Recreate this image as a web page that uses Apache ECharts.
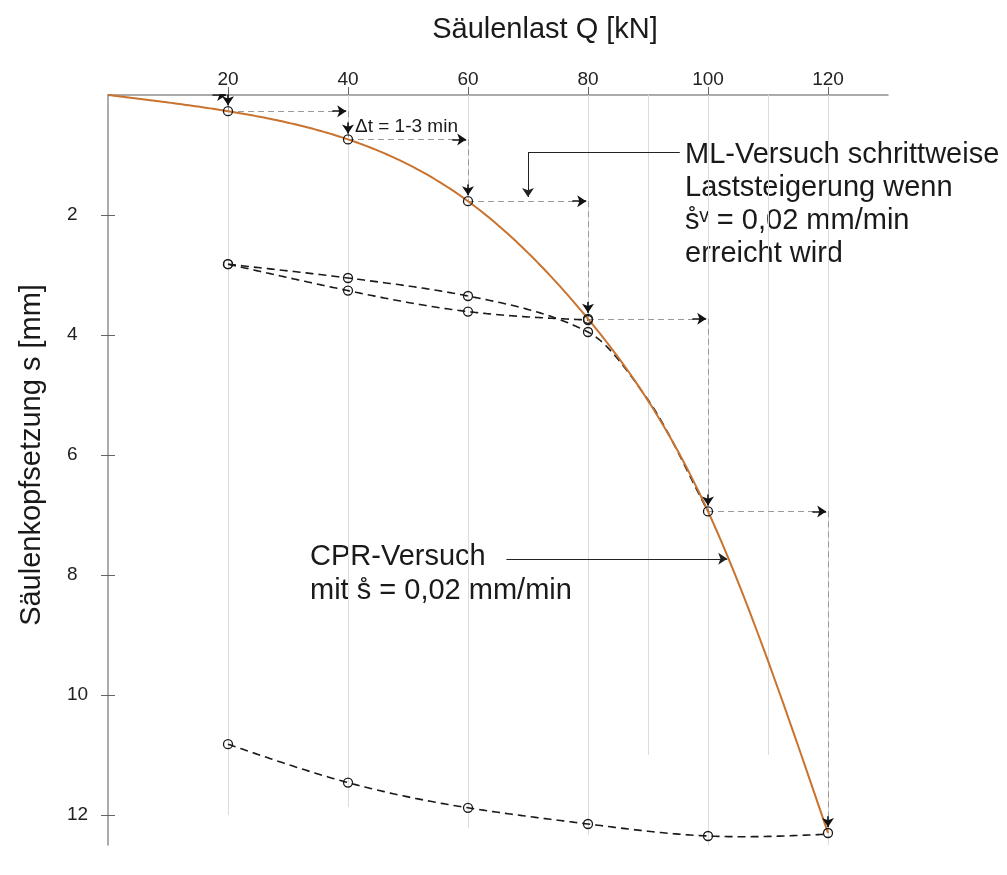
<!DOCTYPE html>
<html>
<head>
<meta charset="utf-8">
<script src="https://cdn.jsdelivr.net/npm/echarts@6/dist/echarts.min.js"></script>
<style>
  html, body { margin: 0; padding: 0; background: #fff; }
  #c { width: 1007px; height: 875px; }
</style>
</head>
<body>
<div id="c"></div>
<script>
// Load steps Q [kN] and head settlement s [mm]
const loadQ      = [0, 20, 40, 60, 80, 100, 120];
const cprS       = [0, 0.27, 0.74, 1.77, 3.73, 6.94, 12.3];

// Unload / reload cycles (dashed); cycle B has an unmarked point at 90 kN
const cycleAQ    = [20, 40, 60, 80];
const cycleAS    = [2.82, 3.26, 3.61, 3.75];
const cycleBQ    = [20, 40, 60, 80, 90, 100];
const cycleBS    = [2.82, 3.05, 3.35, 3.95, 5.08, 6.94];
const cycleCQ    = [20, 40, 60, 80, 100, 120];
const cycleCS    = [10.82, 11.46, 11.88, 12.15, 12.35, 12.32];

// Axis ticks
const qTicks     = [20, 40, 60, 80, 100, 120];
const sTicks     = [2, 4, 6, 8, 10, 12];

// Light vertical guide lines: position and depth
const guideQ     = [20, 40, 60, 80, 90, 100, 110, 120];
const guideEnd   = [12.0, 11.87, 12.22, 12.33, 11.0, 12.53, 11.0, 12.5];

// Leader lines of the two notes
const mlLeader   = [[95.3, 0.95], [70, 0.95], [70, 1.7]];
const cprLeader  = [[66.4, 7.73], [103.2, 7.73]];

const FONT = '"Liberation Sans", Arial, sans-serif';
const ORANGE = '#c8732f';
const BLACK = '#1a1a1a';

const zip = (a, b) => a.map((v, i) => [v, b[i]]);

// Hermite evaluation
function hermite(xs, ys, m) {
  const n = xs.length;
  return x => {
    let j = n - 2;
    for (let k = 0; k < n - 1; k++) { if (x <= xs[k + 1]) { j = k; break; } }
    const h = xs[j + 1] - xs[j];
    const t = (x - xs[j]) / h;
    const t2 = t * t, t3 = t2 * t;
    return (2 * t3 - 3 * t2 + 1) * ys[j] + (t3 - 2 * t2 + t) * h * m[j] +
           (-2 * t3 + 3 * t2) * ys[j + 1] + (t3 - t2) * h * m[j + 1];
  };
}

// Natural cubic spline s(Q)
function naturalSpline(xs, ys) {
  const n = xs.length;
  const h = [], alpha = [0];
  for (let i = 0; i < n - 1; i++) h.push(xs[i + 1] - xs[i]);
  for (let i = 1; i < n - 1; i++) {
    alpha.push(3 / h[i] * (ys[i + 1] - ys[i]) - 3 / h[i - 1] * (ys[i] - ys[i - 1]));
  }
  const l = [1], mu = [0], z = [0];
  for (let i = 1; i < n - 1; i++) {
    l[i] = 2 * (xs[i + 1] - xs[i - 1]) - h[i - 1] * mu[i - 1];
    mu[i] = h[i] / l[i];
    z[i] = (alpha[i] - h[i - 1] * z[i - 1]) / l[i];
  }
  const c = new Array(n).fill(0), b = [], d = [];
  for (let j = n - 2; j >= 0; j--) {
    c[j] = z[j] - mu[j] * c[j + 1];
    b[j] = (ys[j + 1] - ys[j]) / h[j] - h[j] * (c[j + 1] + 2 * c[j]) / 3;
    d[j] = (c[j + 1] - c[j]) / (3 * h[j]);
  }
  return x => {
    let j = n - 2;
    for (let k = 0; k < n - 1; k++) { if (x <= xs[k + 1]) { j = k; break; } }
    const t = x - xs[j];
    return ys[j] + b[j] * t + c[j] * t * t + d[j] * t * t * t;
  };
}

// Monotone cubic (Fritsch-Carlson)
function monotoneSpline(xs, ys) {
  const n = xs.length;
  const dk = [];
  for (let i = 0; i < n - 1; i++) dk.push((ys[i + 1] - ys[i]) / (xs[i + 1] - xs[i]));
  const m = [dk[0]];
  for (let i = 1; i < n - 1; i++) {
    if (dk[i - 1] * dk[i] <= 0) m.push(0);
    else {
      const w1 = 2 * (xs[i + 1] - xs[i]) + (xs[i] - xs[i - 1]);
      const w2 = (xs[i + 1] - xs[i]) + 2 * (xs[i] - xs[i - 1]);
      m.push((w1 + w2) / (w1 / dk[i - 1] + w2 / dk[i]));
    }
  }
  m.push(dk[n - 2]);
  return hermite(xs, ys, m);
}

function sampleCurve(f, x0, x1, steps) {
  const out = [];
  for (let i = 0; i <= steps; i++) {
    const x = x0 + (x1 - x0) * i / steps;
    out.push([x, f(x)]);
  }
  return out;
}

// A smooth curve drawn through the cartesian scales
function curveSeries(xs, ys, kind, style, z) {
  const f = kind === 'monotone' ? monotoneSpline(xs, ys) : naturalSpline(xs, ys);
  const pts = sampleCurve(f, xs[0], xs[xs.length - 1], 240);
  return {
    type: 'custom', coordinateSystem: 'cartesian2d', silent: true, z: z,
    data: [[xs[0], ys[0]]],
    renderItem: (params, api) => ({
      type: 'polyline',
      shape: { points: pts.map(p => api.coord(p)), smooth: 0 },
      style: Object.assign({ fill: null }, style)
    })
  };
}

// Staircase of the ML test: horizontal hold, then vertical settlement
const stairSegs = [];
const arrowSegs = [];
for (let i = 1; i < loadQ.length; i++) {
  const q0 = loadQ[i - 1], q1 = loadQ[i];
  const s0 = cprS[i - 1], s1 = cprS[i];
  if (i > 1) stairSegs.push({ coords: [[q0, s0], [q1, s0]] });
  stairSegs.push({ coords: [[q1, s0], [q1, s1]] });
  // arrow heads at the end of each leg
  arrowSegs.push({ coords: [[q1 - 2.6, s0], [q1 - 0.3, s0]] });
  arrowSegs.push({ coords: [[q1, s1 - 0.28], [q1, s1 - 0.1]] });
}

const guideSegs = guideQ.map((q, i) => ({ coords: [[q, 0], [q, guideEnd[i]]] }));

const markerPts = [].concat(
  zip(loadQ, cprS).slice(1),
  zip(cycleAQ, cycleAS),
  zip(cycleBQ, cycleBS).slice(0, 4),
  zip(cycleCQ, cycleCS).slice(0, 5)
);

const dashBlack = { stroke: BLACK, lineWidth: 1.6, lineDash: [8, 5] };

const chart = echarts.init(document.getElementById('c'), null, { renderer: 'canvas' });

chart.setOption({
  animation: false,
  backgroundColor: '#fff',
  grid: { left: 108, right: 119, top: 95, bottom: 30 },
  xAxis: {
    type: 'value', position: 'top', min: 0, max: 130, interval: 20,
    axisLine: { lineStyle: { color: '#8f8f8f', width: 1.5 } },
    axisTick: { customValues: qTicks, length: 8, lineStyle: { color: '#666', width: 1 } },
    axisLabel: { customValues: qTicks, fontSize: 19, color: '#222', margin: 6, fontFamily: FONT },
    splitLine: { show: false }
  },
  yAxis: [{
    type: 'value', inverse: true, min: 0, max: 12.5, interval: 2,
    axisLine: { onZero: false, lineStyle: { color: '#8f8f8f', width: 1.5 } },
    axisTick: { customValues: sTicks, length: 7, lineStyle: { color: '#666', width: 1 } },
    axisLabel: { customValues: sTicks, fontSize: 19, color: '#222', margin: 41, align: 'left', fontFamily: FONT },
    splitLine: { show: false }
  }, {
    type: 'value', inverse: true, min: 0, max: 12.5, interval: 2, position: 'left',
    axisLine: { show: false },
    axisTick: { inside: true, customValues: sTicks, length: 7, lineStyle: { color: '#666', width: 1 } },
    axisLabel: { show: false },
    splitLine: { show: false }
  }],
  series: [
    {
      type: 'lines', coordinateSystem: 'cartesian2d', silent: true, z: 1,
      lineStyle: { color: '#dcdcdc', width: 1, opacity: 1 },
      data: guideSegs
    },
    {
      type: 'lines', coordinateSystem: 'cartesian2d', silent: true, z: 2,
      lineStyle: { color: '#9a9a9a', width: 1, type: [6, 4], opacity: 1 },
      data: stairSegs
    },
    curveSeries(cycleAQ, cycleAS, 'natural', dashBlack, 3),
    curveSeries(cycleBQ, cycleBS, 'monotone', dashBlack, 3),
    curveSeries(cycleCQ, cycleCS, 'natural', dashBlack, 3),
    curveSeries(loadQ, cprS, 'natural', { stroke: ORANGE, lineWidth: 2 }, 4),
    {
      type: 'scatter', z: 6, silent: true, data: markerPts,
      symbol: 'circle', symbolSize: 9,
      itemStyle: { color: 'rgba(0,0,0,0)', borderColor: BLACK, borderWidth: 1.3, opacity: 1 }
    },
    {
      type: 'lines', coordinateSystem: 'cartesian2d', silent: true, z: 5,
      symbol: ['none', 'arrow'], symbolSize: 9,
      lineStyle: { color: '#111', width: 1.6, opacity: 1 },
      data: arrowSegs
    },
    {
      type: 'lines', coordinateSystem: 'cartesian2d', silent: true, z: 5,
      symbol: ['none', 'none'],
      lineStyle: { color: '#222', width: 1, opacity: 1 },
      data: [{ coords: [mlLeader[0], mlLeader[1]] }]
    },
    {
      type: 'lines', coordinateSystem: 'cartesian2d', silent: true, z: 5,
      symbol: ['none', 'arrow'], symbolSize: 9,
      lineStyle: { color: '#222', width: 1, opacity: 1 },
      data: [{ coords: [mlLeader[1], mlLeader[2]] }, { coords: cprLeader }]
    }
  ],
  graphic: [
    {
      type: 'text', x: 545, y: 30,
      style: { text: 'Säulenlast Q [kN]', font: '29px ' + FONT, fill: BLACK, align: 'center', verticalAlign: 'middle' }
    },
    {
      type: 'text', x: 32, y: 455, rotation: Math.PI / 2,
      style: { text: 'Säulenkopfsetzung s [mm]', font: '29px ' + FONT, fill: BLACK, align: 'center', verticalAlign: 'middle' }
    },
    {
      type: 'text', x: 355, y: 127,
      style: { text: 'Δt = 1-3 min', font: '19px ' + FONT, fill: BLACK, align: 'left', verticalAlign: 'middle' }
    },
    {
      type: 'text', x: 685, y: 138,
      style: {
        text: 'ML-Versuch schrittweise\nLaststeigerung wenn\ns\u030A\u1D5B = 0,02 mm/min\nerreicht wird',
        font: '29px ' + FONT, lineHeight: 33, fill: BLACK, align: 'left', verticalAlign: 'top'
      }
    },
    {
      type: 'text', x: 310, y: 540,
      style: {
        text: 'CPR-Versuch\nmit s\u030A = 0,02 mm/min',
        font: '29px ' + FONT, lineHeight: 34, fill: BLACK, align: 'left', verticalAlign: 'top'
      }
    }
  ]
});
</script>
</body>
</html>
